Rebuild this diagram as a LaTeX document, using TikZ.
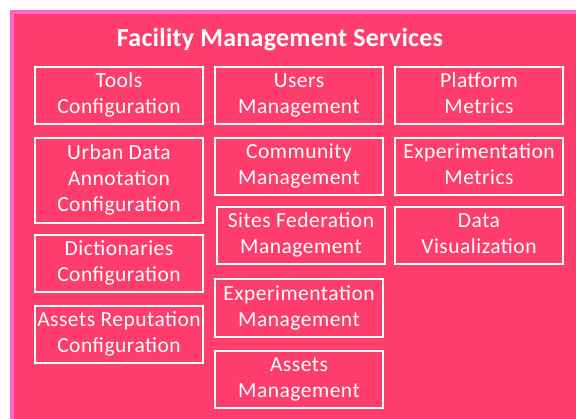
\documentclass[tikz,border=0pt]{standalone}
\usepackage{fontspec}
\setmainfont{Carlito}
\newfontfamily\boxfont[LetterSpace=2.3]{Carlito}
\newfontfamily\titlefont[LetterSpace=1.0]{Carlito}
\definecolor{fillpink}{HTML}{FF3D6D}
\definecolor{edgepink}{HTML}{FF66CC}
\newcommand{\ls}{\strut}
\begin{document}
\begin{tikzpicture}[x=1pt,y=-1pt,
  box/.style={draw=white,line width=1.4pt,minimum width=168pt,inner sep=0pt},
  txt/.style={text=white,align=center,font=\boxfont\fontsize{21.5}{26}\selectfont,inner sep=0pt},
  ttl/.style={text=white,font=\titlefont\fontsize{26}{30}\selectfont\bfseries,anchor=base,inner sep=0pt}]
\useasboundingbox (0,0) rectangle (576,418);
\begin{scope}
\clip (0,0) rectangle (576,418);
\draw[edgepink,line width=3.5pt,fill=fillpink] (11.75,11.75) rectangle (620,460);
\end{scope}
\node[ttl] (title) at (280,46) {Facility Management Services};
% column 1
\node[box,minimum height=57pt] (b1) at (119,95.5) {};
\node[txt] (t1) at (b1) {\ls Tools\\\ls Configuration};
\node[box,minimum height=85pt] (b2) at (119,180.5) {};
\node[txt] (t2) at (b2) {\ls Urban Data\\\ls Annotation\\\ls Configuration};
\node[box,minimum height=57pt] (b3) at (119,263.5) {};
\node[txt] (t3) at (b3) {\ls Dictionaries\\\ls Configuration};
\node[box,minimum height=57pt] (b4) at (119,334.5) {};
\node[txt] (t4) at (b4) {\ls Assets Reputation\\\ls Configuration};
% column 2
\node[box,minimum height=57pt] (b5) at (299,95.5) {};
\node[txt] (t5) at (b5) {\ls Users\\\ls Management};
\node[box,minimum height=57pt] (b6) at (299,166.5) {};
\node[txt] (t6) at (b6) {\ls Community\\\ls Management};
\node[box,minimum height=57pt] (b7) at (301,235.5) {};
\node[txt] (t7) at (b7) {\ls Sites Federation\\\ls Management};
\node[box,minimum height=58pt] (b8) at (299,308) {};
\node[txt] (t8) at (b8) {\ls Experimentation\\\ls Management};
\node[box,minimum height=57pt] (b9) at (299,379.5) {};
\node[txt] (t9) at (b9) {\ls Assets\\\ls Management};
% column 3
\node[box,minimum height=57pt] (b10) at (479,95.5) {};
\node[txt] (t10) at (b10) {\ls Platform\\\ls Metrics};
\node[box,minimum height=57pt] (b11) at (479,166.5) {};
\node[txt] (t11) at (b11) {\ls Experimentation\\\ls Metrics};
\node[box,minimum height=57pt] (b12) at (479,235.5) {};
\node[txt] (t12) at (b12) {\ls Data\\\ls Visualization};
\end{tikzpicture}
\end{document}
